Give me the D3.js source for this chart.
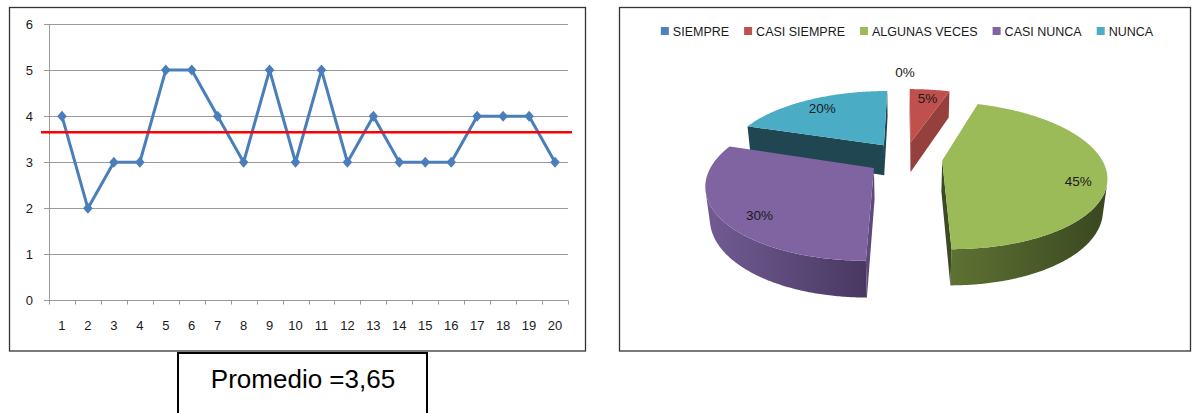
<!DOCTYPE html>
<html>
<head>
<meta charset="utf-8">
<script src="https://cdn.jsdelivr.net/npm/d3@7"></script>
<style>
  html, body { margin: 0; padding: 0; background: #fff; }
  svg { display: block; }
  text { font-family: "Liberation Sans", Arial, sans-serif; }
</style>
</head>
<body>
<svg id="chart" width="1194" height="413"></svg>
<script>
// Puntaje de cada ítem (1..20)
const items = d3.range(1, 21);
const scores = [4, 2, 3, 3, 5, 5, 4, 3, 5, 3, 5, 3, 4, 3, 3, 3, 4, 4, 4, 3];
const yTicks = [0, 1, 2, 3, 4, 5, 6];
const average = 3.65;
const averageLabel = "Promedio =3,65";

// Distribución porcentual de las respuestas
const categories = ["SIEMPRE", "CASI SIEMPRE", "ALGUNAS VECES", "CASI NUNCA", "NUNCA"];
const percents = [0, 5, 45, 30, 20];

// Colores: cara superior, pared exterior (claro -> oscuro), pared radial
const topColors = ["#4F81BD", "#C0504D", "#9BBB59", "#8064A2", "#4BACC6"];
const wallColors = [["#3a6190", "#284568"], ["#9c413e", "#7c302d"], ["#5e7233", "#3a4720"],
                    ["#725c93", "#483861"], ["#2a5e6c", "#1c4049"]];
const radialColors = ["#2f4f78", "#96403d", "#3d4b22", "#5d4a7a", "#1F4651"];
// Posición de cada etiqueta: radio relativo y altura sobre la cara superior
const labelRadius = [1.4, 0.87, 0.84, 0.77, 0.8];
const labelHeight = [0, -0.02, -0.08, -0.07, 0];

const svg = d3.select("#chart");
const defs = svg.append("defs");

// ---------- Gráfico de líneas ----------
svg.append("rect")
  .attr("x", 9.5).attr("y", 7.5).attr("width", 576).attr("height", 343.5)
  .attr("fill", "#fff").attr("stroke", "#333").attr("stroke-width", 1.3);

const x = d3.scaleBand().domain(items).range([49, 568]);
const y = d3.scaleLinear().domain([0, 6]).range([300.5, 24]);
const gridColor = "#9a9a9a";

const lineG = svg.append("g");
// líneas de cuadrícula con su marca de eje
lineG.selectAll("line.grid").data(yTicks.filter(t => t > 0)).join("line")
  .attr("x1", 44).attr("x2", x.range()[1])
  .attr("y1", d => Math.round(y(d)) + 0.5).attr("y2", d => Math.round(y(d)) + 0.5)
  .attr("stroke", gridColor).attr("stroke-width", 1);
// eje vertical
lineG.append("line")
  .attr("x1", 49.5).attr("x2", 49.5).attr("y1", y(6)).attr("y2", y(0))
  .attr("stroke", gridColor).attr("stroke-width", 1);
// eje horizontal y marcas entre categorías
lineG.append("line")
  .attr("x1", 44).attr("x2", x.range()[1]).attr("y1", y(0)).attr("y2", y(0))
  .attr("stroke", gridColor).attr("stroke-width", 1);
const boundaries = items.map(d => x(d)).concat([x.range()[1]]);
lineG.selectAll("line.tick").data(boundaries).join("line")
  .attr("x1", d => Math.round(d) + 0.5).attr("x2", d => Math.round(d) + 0.5)
  .attr("y1", y(0)).attr("y2", y(0) + 4)
  .attr("stroke", gridColor).attr("stroke-width", 1);

lineG.selectAll("text.ylab").data(yTicks).join("text")
  .attr("x", 33).attr("y", d => y(d)).attr("dy", "0.35em")
  .attr("text-anchor", "end").attr("font-size", 13).attr("fill", "#1a1a1a")
  .text(d => d);
lineG.selectAll("text.xlab").data(items).join("text")
  .attr("x", d => x(d) + x.bandwidth() / 2).attr("y", 330)
  .attr("text-anchor", "middle").attr("font-size", 13).attr("fill", "#1a1a1a")
  .text(d => d);

const line = d3.line()
  .x((d, i) => x(items[i]) + x.bandwidth() / 2)
  .y(d => y(d));
lineG.append("path").datum(scores)
  .attr("d", line).attr("fill", "none")
  .attr("stroke", "#4A7EBB").attr("stroke-width", 3).attr("stroke-linejoin", "round");
lineG.selectAll("path.marker").data(scores).join("path")
  .attr("transform", (d, i) => `translate(${x(items[i]) + x.bandwidth() / 2},${y(d)})`)
  .attr("d", "M0,-5.5L4.8,0L0,5.5L-4.8,0Z")
  .attr("fill", "#4A7EBB");

// línea del promedio
lineG.append("line")
  .attr("x1", 41).attr("x2", 572).attr("y1", y(average)).attr("y2", y(average))
  .attr("stroke", "#FF0000").attr("stroke-width", 2.5);

// recuadro del promedio
svg.append("rect")
  .attr("x", 178).attr("y", 353).attr("width", 249).attr("height", 80)
  .attr("fill", "#fff").attr("stroke", "#000").attr("stroke-width", 2);
svg.append("text")
  .attr("x", 303).attr("y", 388).attr("text-anchor", "middle")
  .attr("font-size", 26).attr("fill", "#000")
  .text(averageLabel);

// ---------- Gráfico circular 3D ----------
svg.append("rect")
  .attr("x", 619.5).attr("y", 7.5).attr("width", 571).attr("height", 343.5)
  .attr("fill", "#fff").attr("stroke", "#333").attr("stroke-width", 1.3);

// leyenda
const legend = svg.append("g").attr("font-size", 12.5).attr("fill", "#1a1a1a");
const entries = legend.selectAll("g").data(categories).join("g");
entries.append("rect").attr("width", 8).attr("height", 8).attr("y", -8.5)
  .attr("fill", (d, i) => topColors[i]);
entries.append("text").attr("x", 12).attr("y", 0).text(d => d);
let lx = 0;
const gap = 15;
entries.each(function () {
  const w = 12 + this.querySelector("text").getComputedTextLength();
  d3.select(this).attr("data-x", lx);
  lx += w + gap;
});
const legendW = lx - gap;
const legendX0 = 907 - legendW / 2;
entries.attr("transform", function () {
  return `translate(${legendX0 + (+this.getAttribute("data-x"))},35.5)`;
});

// proyección en perspectiva del disco (u derecha, y arriba, v hacia el fondo)
const alpha = 26 * Math.PI / 180;
const ca = Math.cos(alpha), sa = Math.sin(alpha);
const Dz = 5 * ca;
const focal = 159 * Dz;
const pc = { cx: 905, cy: 158, depth: 0.22, explode: 0.235 };
const cam = [0, Dz * sa, -Dz * ca];

function project(u, yy, v) {
  const yc = yy * ca + v * sa;
  const zc = v * ca - yy * sa + Dz;
  return [pc.cx + focal * u / zc, pc.cy - focal * yc / zc];
}

const arcs = d3.pie().sort(null).value(d => d)(percents);
const slices = arcs.map((a, i) => {
  const mid = (a.startAngle + a.endAngle) / 2;
  return { i, a0: a.startAngle, a1: a.endAngle, mid, value: a.value,
           ox: pc.explode * Math.sin(mid), oz: pc.explode * Math.cos(mid) };
});

const pieG = svg.append("g");
const pathOf = pts => "M" + pts.map(p => p[0].toFixed(2) + "," + p[1].toFixed(2)).join("L") + "Z";

// del fondo hacia el frente
slices.filter(s => s.value > 0).sort((a, b) => b.oz - a.oz).forEach(s => {
  const rim = (t, yy) => project(s.ox + Math.sin(t), yy, s.oz + Math.cos(t));
  const apex = yy => project(s.ox, yy, s.oz);
  const n = Math.max(8, Math.ceil((s.a1 - s.a0) / 0.01));
  const ts = d3.range(n + 1).map(k => s.a0 + (s.a1 - s.a0) * k / n);

  // pared exterior visible
  const vis = ts.filter(t => {
    const px = s.ox + Math.sin(t), pz = s.oz + Math.cos(t);
    return Math.sin(t) * (cam[0] - px) + Math.cos(t) * (cam[2] - pz) > 0;
  });
  if (vis.length > 1) {
    const top = vis.map(t => rim(t, 0));
    const bot = vis.map(t => rim(t, -pc.depth)).reverse();
    const pts = top.concat(bot);
    const xs = pts.map(p => p[0]);
    const gid = "wall" + s.i;
    const g = defs.append("linearGradient").attr("id", gid)
      .attr("gradientUnits", "userSpaceOnUse")
      .attr("x1", d3.min(xs)).attr("x2", d3.max(xs)).attr("y1", 0).attr("y2", 0);
    g.append("stop").attr("offset", 0).attr("stop-color", wallColors[s.i][0]);
    g.append("stop").attr("offset", 1).attr("stop-color", wallColors[s.i][1]);
    pieG.append("path").attr("d", pathOf(pts)).attr("fill", `url(#${gid})`);
  }

  // paredes radiales
  [[s.a0, -1], [s.a1, 1]].forEach(([t, sign]) => {
    const nx = sign * Math.cos(t), nz = -sign * Math.sin(t);
    const dot = nx * (cam[0] - s.ox) + nz * (cam[2] - s.oz);
    if (dot > 0) {
      const pts = [apex(0), rim(t, 0), rim(t, -pc.depth), apex(-pc.depth)];
      pieG.append("path").attr("d", pathOf(pts)).attr("fill", radialColors[s.i]);
    }
  });

  // cara superior
  const topPts = [apex(0)].concat(ts.map(t => rim(t, 0)));
  pieG.append("path").attr("d", pathOf(topPts)).attr("fill", topColors[s.i]);
});

// etiquetas de porcentaje
slices.forEach(s => {
  const r = labelRadius[s.i];
  const p = project(s.ox + r * Math.sin(s.mid), labelHeight[s.i], s.oz + r * Math.cos(s.mid));
  pieG.append("text")
    .attr("x", p[0]).attr("y", p[1]).attr("dy", "0.35em")
    .attr("text-anchor", "middle").attr("font-size", 13.5).attr("fill", "#1a1a1a")
    .text(s.value + "%");
});
</script>
</body>
</html>
